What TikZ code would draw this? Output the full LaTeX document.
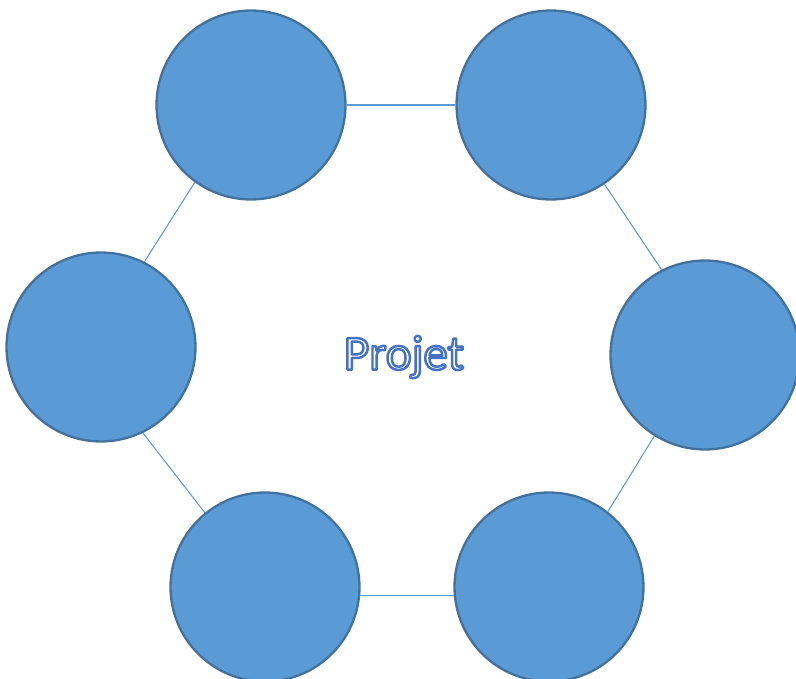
\documentclass[tikz,border=0pt]{standalone}
\usepackage{fontspec}
\setmainfont{Carlito}
\usepackage{xcolor}
\usepackage{tikz}
\usetikzlibrary{positioning}
\definecolor{circlefill}{RGB}{91,155,213}
\definecolor{circleedge}{RGB}{65,113,156}
\newcommand{\outlinetext}[1]{%
    \special{pdf:literal direct 2 Tr 1.4 w 1 j 0.267 0.447 0.769 RG}#1\special{pdf:literal direct 0 Tr}}
\tikzset{
    membercircle/.style={
        circle,
        draw=circleedge,
        fill=circlefill,
        line width=1.3pt,
        minimum size=3.78cm,
        inner sep=0pt
    },
    linkline/.style={draw=circlefill, line width=0.6pt},
    titletext/.style={font=\fontsize{28}{33}\selectfont, text=white, inner sep=0pt},
}

\begin{document}
\begin{tikzpicture}[x=0.02cm, y=-0.02cm]
    \useasboundingbox (0,0) rectangle (796,679);

    \node[membercircle] (topleft) at (251,105) {};
    \node[membercircle] (topright) at (551,105) {};
    \node[membercircle] (left) at (101,347) {};
    \node[membercircle] (right) at (705,355) {};
    \node[membercircle] (bottomleft) at (265,587) {};
    \node[membercircle] (bottomright) at (549,587) {};

    \draw[linkline] (topleft.east) -- (topright.west);
    \draw[linkline] (topright.-56) -- (right.117);
    \draw[linkline] (right.238) -- (bottomright.52);
    \draw[linkline] (bottomright.185) -- (bottomleft.-5);
    \draw[linkline] (bottomleft.129) -- (left.-64);
    \draw[linkline] (left.63) -- (topleft.234);

    \node[titletext] (projet) at (404,357) {\outlinetext{Projet}};
\end{tikzpicture}
\end{document}
